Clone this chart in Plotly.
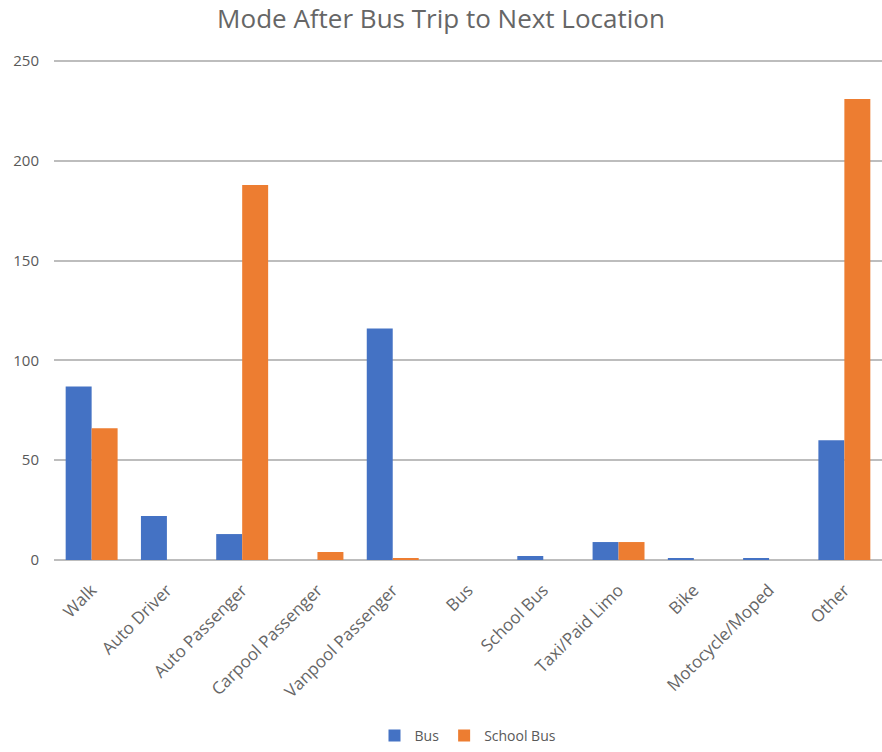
import plotly.graph_objects as go

categories = ["Walk", "Auto Driver", "Auto Passenger", "Carpool Passenger",
              "Vanpool Passenger", "Bus", "School Bus", "Taxi/Paid Limo",
              "Bike", "Motocycle/Moped", "Other"]
bus_values = [87, 22, 13, 0, 116, 0, 2, 9, 1, 1, 60]
school_bus_values = [66, 0, 188, 4, 1, 0, 0, 9, 0, 0, 231]
y_ticks = [0, 50, 100, 150, 200, 250]

font_family = "Open Sans, Noto Sans, sans-serif"
text_grey = "#595959"

fig = go.Figure()
fig.add_trace(go.Bar(name="Bus", x=categories, y=bus_values,
                     marker=dict(color="#4472C4", line=dict(width=0))))
fig.add_trace(go.Bar(name="School Bus", x=categories, y=school_bus_values,
                     marker=dict(color="#ED7D31", line=dict(width=0))))

fig.update_layout(
    width=882, height=752,
    margin=dict(l=54, r=0, t=60, b=191),
    paper_bgcolor="white", plot_bgcolor="white",
    barmode="group", bargap=0.31, bargroupgap=0,
    title=dict(text="Mode After Bus Trip to Next Location",
               x=0.5, xanchor="center", y=0.987, yanchor="top",
               font=dict(family=font_family, size=26, color="#666666")),
    font=dict(family=font_family, size=14, color=text_grey),
    showlegend=True,
    legend=dict(orientation="h", x=0.5, xanchor="center",
                y=-0.353, yanchor="middle",
                font=dict(size=14, color=text_grey),
                itemwidth=30, itemsizing="constant"),
    xaxis=dict(tickangle=-45, showgrid=False, showline=False,
               ticks="", ticklabelstandoff=16,
               tickfont=dict(size=17, color="#666666")),
    yaxis=dict(range=[0, 250.6], tickvals=y_ticks, showgrid=True,
               gridcolor="#bdbdbd", gridwidth=1.6, zeroline=True,
               zerolinecolor="#bdbdbd", zerolinewidth=1.6,
               showline=False, ticks="", ticklabelstandoff=14,
               tickfont=dict(size=15, color=text_grey)),
)

fig.write_html("out.html")
